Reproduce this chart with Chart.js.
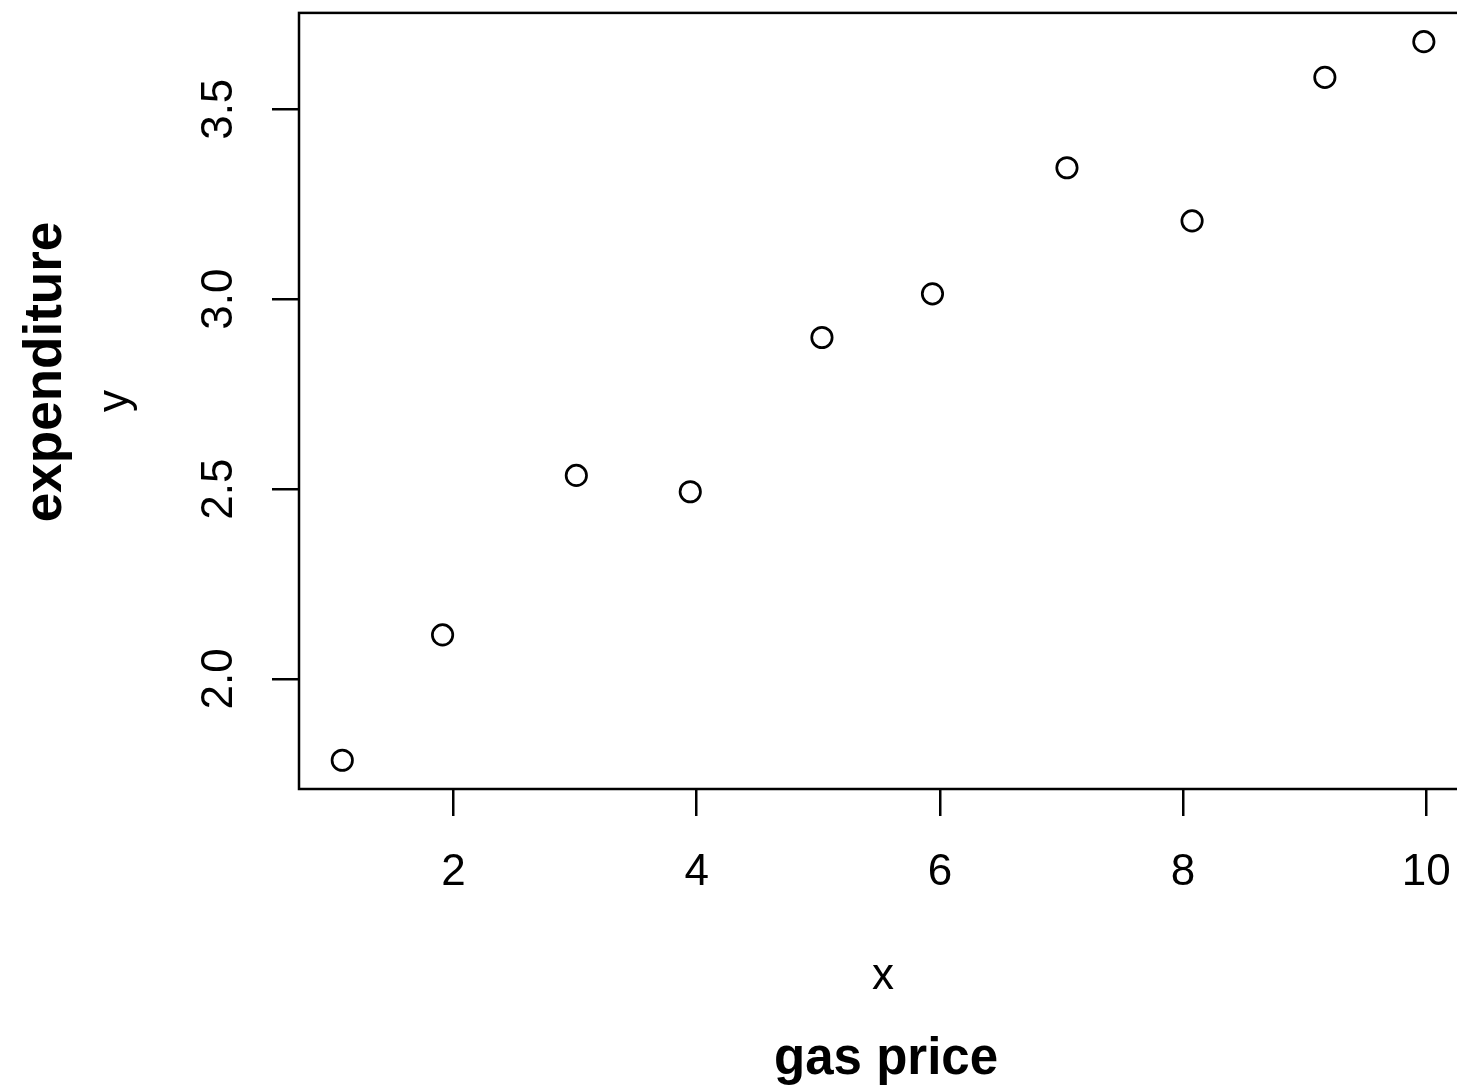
<!DOCTYPE html>
<html>
<head>
<meta charset="utf-8">
<script src="https://cdn.jsdelivr.net/npm/chart.js@4/dist/chart.umd.min.js"></script>
<style>
  html, body { margin: 0; padding: 0; background: #fff; overflow: hidden; }
  canvas { display: block; }
</style>
</head>
<body>
<canvas id="plot" width="1480" height="1086" style="width:1480px;height:1086px"></canvas>
<script>
// Gas price (x) against expenditure (y)
const gasPrice    = [1.085, 1.910, 3.010, 3.947, 5.030, 5.939, 7.045, 8.074, 9.166, 9.980];
const expenditure = [1.786, 2.116, 2.536, 2.493, 2.899, 3.014, 3.346, 3.206, 3.584, 3.678];

const xTicks = [2, 4, 6, 8, 10];
const yTicks = [2.0, 2.5, 3.0, 3.5];
const yTickLabels = ['2.0', '2.5', '3.0', '3.5'];

const xInnerLabel = 'x';
const xOuterLabel = 'gas price';
const yInnerLabel = 'y';
const yOuterLabel = 'expenditure';

// axis ranges padded by 4% on each side, as base graphics does
function padRange(vals) {
  const lo = Math.min(...vals), hi = Math.max(...vals);
  const d = (hi - lo) * 0.04;
  return [lo - d, hi + d];
}
const [xMin, xMax] = padRange(gasPrice);
const [yMin, yMax] = padRange(expenditure);

const FONT = "'Liberation Sans', Arial, Helvetica, sans-serif";
const INK = '#000';
const LW = 2.5;

const boxAndTitles = {
  id: 'boxAndTitles',
  afterDraw(chart) {
    const { ctx, chartArea: a } = chart;
    ctx.save();
    ctx.strokeStyle = INK;
    ctx.lineWidth = LW;
    ctx.strokeRect(a.left, a.top, a.right - a.left, a.bottom - a.top);

    const cx = (a.left + a.right) / 2;
    const cy = (a.top + a.bottom) / 2;
    ctx.fillStyle = INK;
    ctx.textAlign = 'center';
    ctx.textBaseline = 'alphabetic';

    ctx.font = `44px ${FONT}`;
    ctx.fillText(xInnerLabel, cx, 989);
    ctx.font = `bold 51px ${FONT}`;
    ctx.fillText(xOuterLabel, cx + 3, 1074);

    ctx.save();
    ctx.translate(128, cy);
    ctx.rotate(-Math.PI / 2);
    ctx.font = `44px ${FONT}`;
    ctx.fillText(yInnerLabel, 0, 0);
    ctx.restore();

    ctx.save();
    ctx.translate(61, cy - 29);
    ctx.rotate(-Math.PI / 2);
    ctx.font = `bold 53px ${FONT}`;
    ctx.fillText(yOuterLabel, 0, 0);
    ctx.restore();

    ctx.restore();
  }
};

function noPad(s) {
  s.paddingTop = 0; s.paddingBottom = 0; s.paddingLeft = 0; s.paddingRight = 0;
}

new Chart(document.getElementById('plot'), {
  type: 'scatter',
  data: {
    datasets: [{
      data: gasPrice.map((x, i) => ({ x, y: expenditure[i] })),
      pointStyle: 'circle',
      radius: 10.2,
      hoverRadius: 10.2,
      borderWidth: 2.7,
      borderColor: INK,
      backgroundColor: 'rgba(0,0,0,0)'
    }]
  },
  options: {
    responsive: false,
    animation: false,
    devicePixelRatio: 1,
    events: [],
    layout: { padding: { top: 11, right: 2, left: 0, bottom: 0 } },
    plugins: { legend: { display: false }, tooltip: { enabled: false } },
    scales: {
      x: {
        type: 'linear',
        min: xMin, max: xMax,
        afterBuildTicks: s => { s.ticks = xTicks.map(v => ({ value: v })); },
        afterFit: s => { s.height = 297; noPad(s); },
        border: { display: false },
        grid: { drawOnChartArea: false, drawTicks: true, tickLength: 27, color: INK, lineWidth: LW },
        ticks: { color: INK, font: { family: FONT, size: 44 }, padding: 30, maxRotation: 0, minRotation: 0 }
      },
      y: {
        type: 'linear',
        min: yMin, max: yMax,
        afterBuildTicks: s => { s.ticks = yTicks.map(v => ({ value: v })); },
        afterFit: s => { s.width = 299; noPad(s); },
        border: { display: false },
        grid: { drawOnChartArea: false, drawTicks: true, tickLength: 27, color: INK, lineWidth: LW },
        ticks: {
          color: INK, font: { family: FONT, size: 44 }, padding: 22,
          minRotation: 90, maxRotation: 90, crossAlign: 'center',
          callback: (v, i) => yTickLabels[i]
        }
      }
    }
  },
  plugins: [boxAndTitles]
});
</script>
</body>
</html>
